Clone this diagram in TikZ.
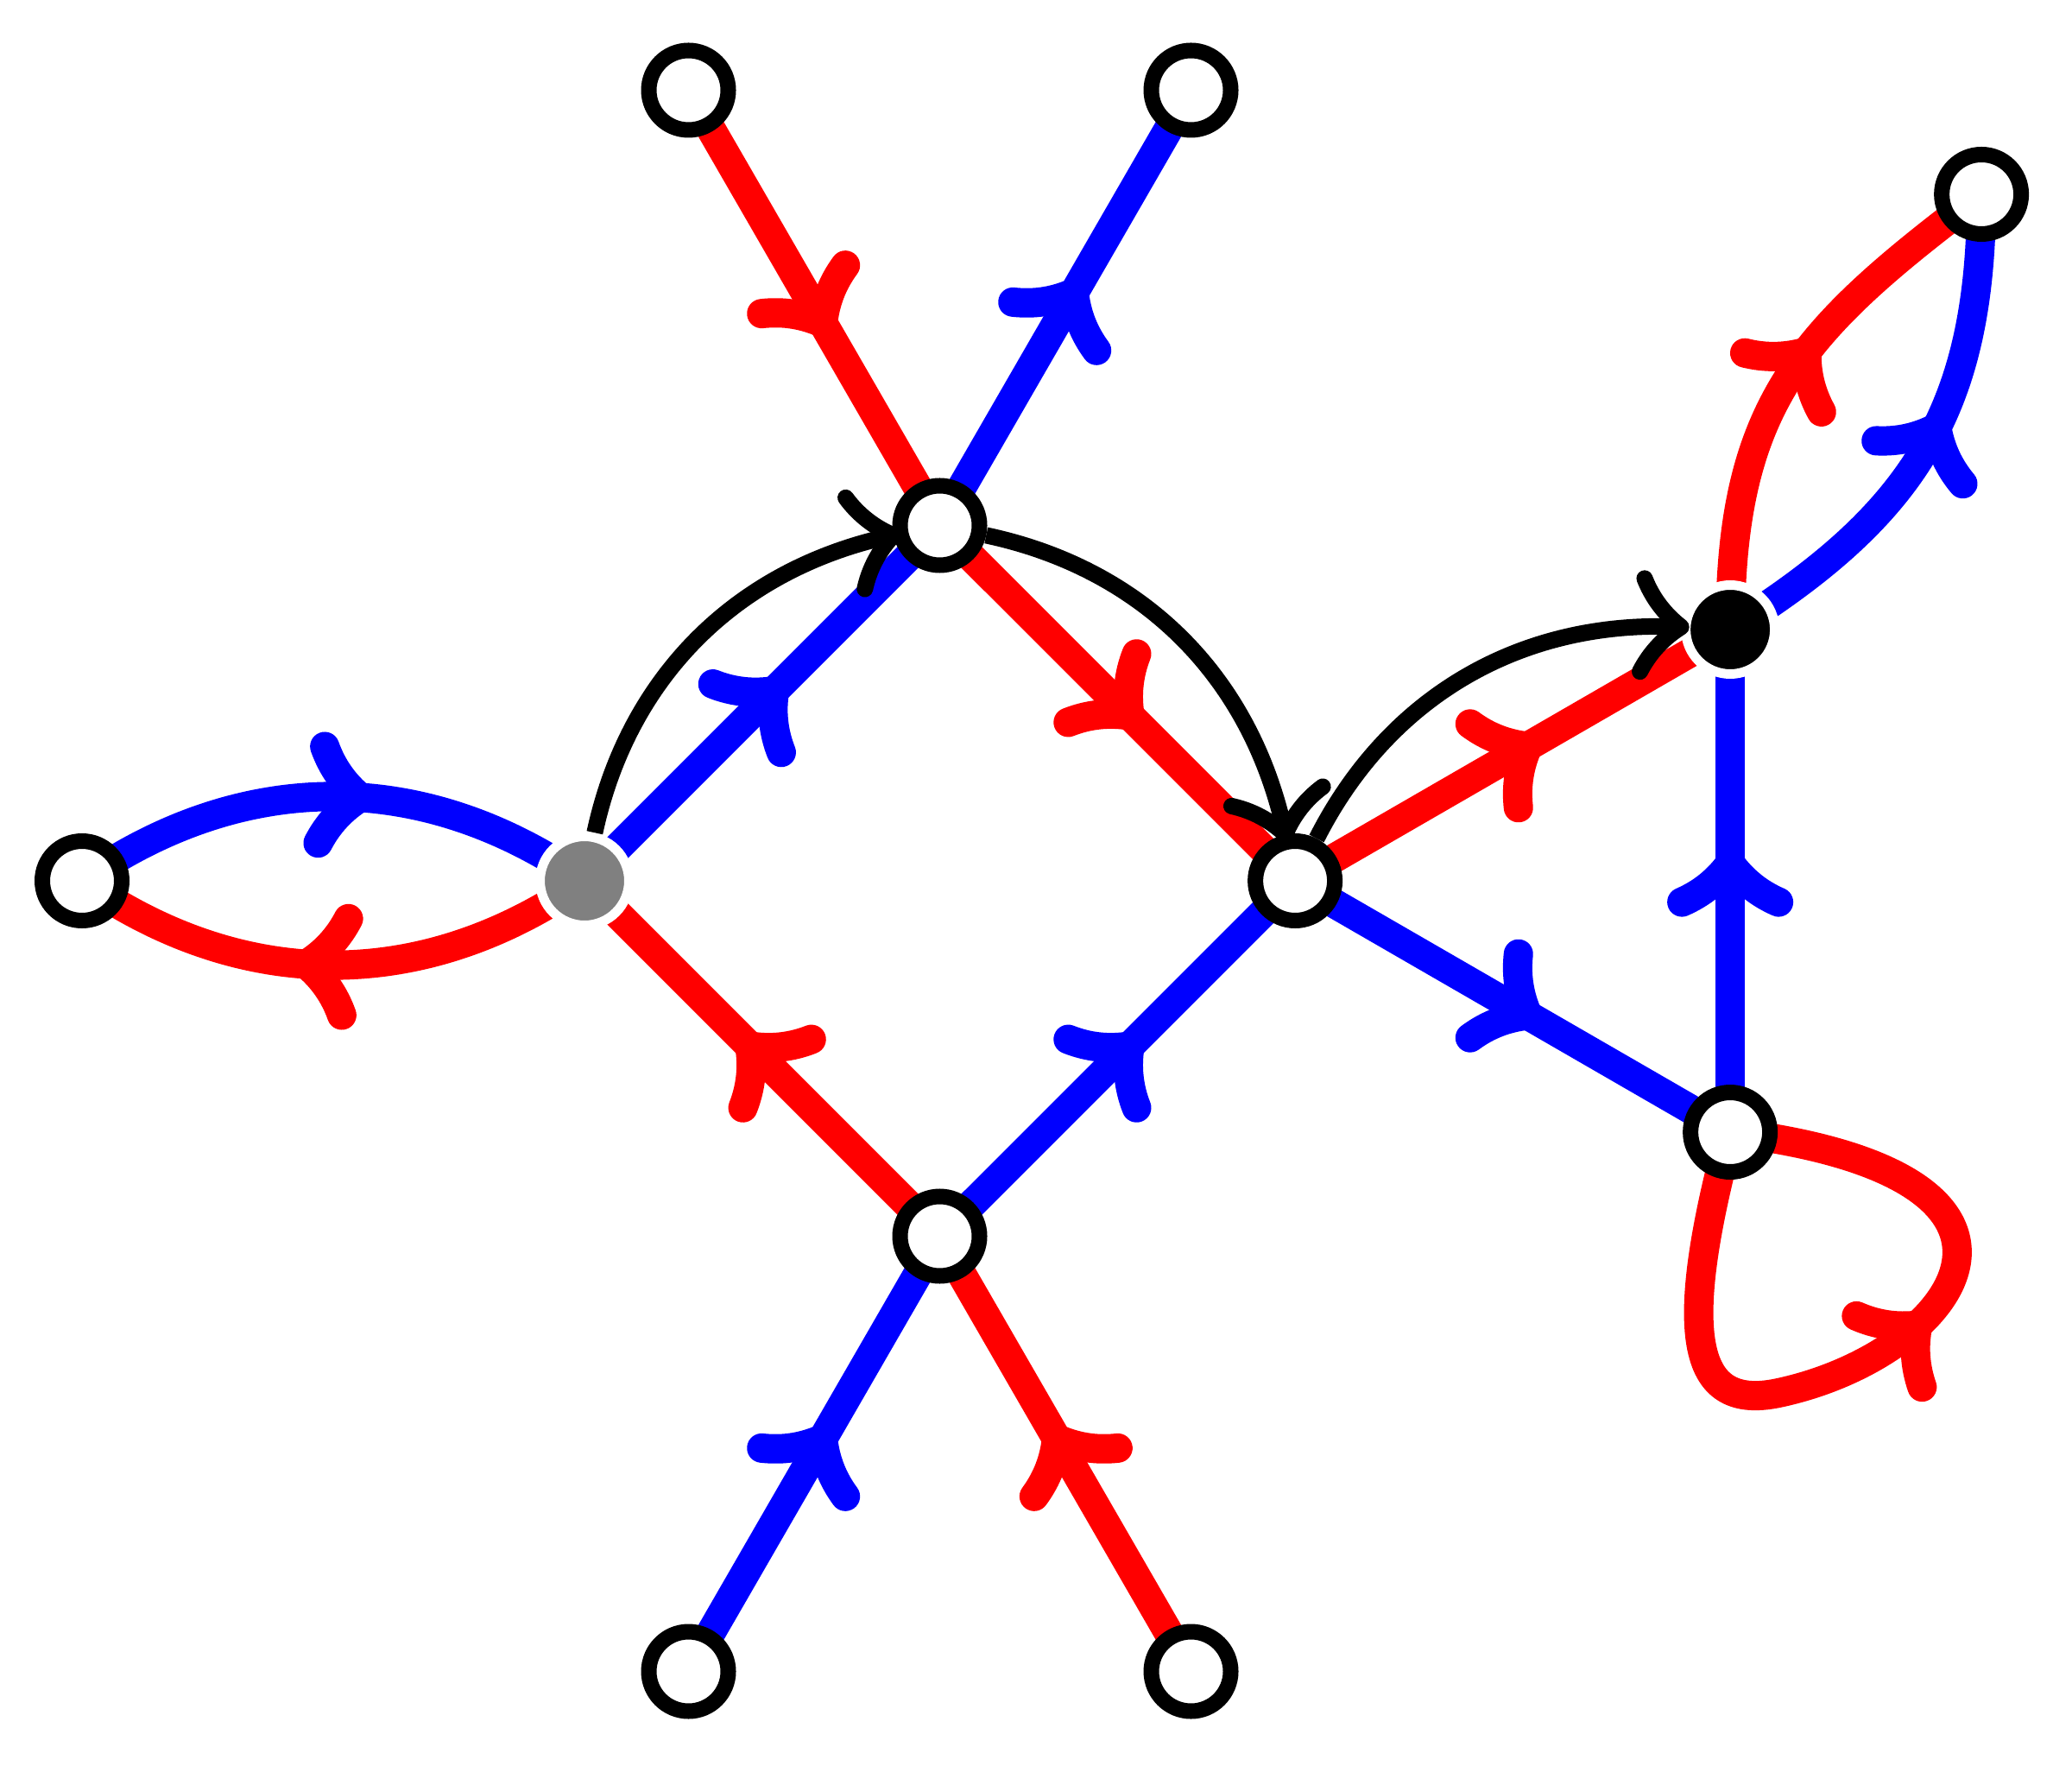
\documentclass[tikz,border=0pt]{standalone}
\usetikzlibrary{decorations.markings}
\pgfdeclarelayer{edgelayer}
\pgfsetlayers{edgelayer,main}
\newcommand{\cbarb}{\draw[line cap=round,line join=round]
  (-0.45,0.56) .. controls (-0.35,0.33) and (-0.20,0.145) .. (0,0)
  .. controls (-0.20,-0.145) and (-0.35,-0.33) .. (-0.45,-0.56);}
\newcommand{\kbarb}{\draw[line width=0.19cm,line cap=round,line join=round]
  (-0.45,0.54) .. controls (-0.35,0.32) and (-0.20,0.14) .. (0,0)
  .. controls (-0.20,-0.14) and (-0.35,-0.32) .. (-0.45,-0.54);}
\begin{document}
\begin{tikzpicture}[
  vtx/.style={circle, minimum size=0.92cm, inner sep=0pt, line width=0.18cm},
  openv/.style={vtx, draw=black, fill=white},
  solidv/.style={circle, minimum size=1.03cm, inner sep=0pt, line width=0.11cm, draw=white},
  grayv/.style={solidv, fill=gray},
  blackv/.style={solidv, fill=black},
  colored/.style={line width=0.34cm, postaction={decorate},
    decoration={markings, mark=at position #1 with {\cbarb}}},
  redge/.style={red, colored=#1}, redge/.default=0.535,
  bedge/.style={blue, colored=#1}, bedge/.default=0.535,
  blk/.style={black, line width=0.19cm, postaction={decorate},
    decoration={markings, mark=at position 1 with {\kbarb}}},
]
\useasboundingbox (0,0) rectangle (24,-20.45);
% vertices
\node[openv]  (A)  at (7.975,-1.045) {};
\node[openv]  (B)  at (13.795,-1.045) {};
\node[openv]  (T)  at (10.885,-6.085) {};
\node[openv]  (L)  at (0.95,-10.20) {};
\node[grayv]  (G)  at (6.77,-10.20) {};
\node[openv]  (R)  at (15.001,-10.20) {};
\node[openv]  (D)  at (10.885,-14.315) {};
\node[openv]  (BL) at (7.975,-19.355) {};
\node[openv]  (BR) at (13.795,-19.355) {};
\node[blackv] (K)  at (20.041,-7.29) {};
\node[openv]  (M)  at (20.041,-13.11) {};
\node[openv]  (F)  at (22.951,-2.25) {};
\coordinate (lq) at (20.60,-16.13);
% coloured edges
\begin{pgfonlayer}{edgelayer}
\draw[redge] (A.center) -- (T.center);
\draw[bedge] (T.center) -- (B.center);
\draw[bedge] (G.center) -- (T.center);
\draw[redge] (T.center) -- (R.center);
\draw[redge] (D.center) -- (G.center);
\draw[bedge] (D.center) -- (R.center);
\draw[bedge] (BL.center) -- (D.center);
\draw[redge] (BR.center) -- (D.center);
\draw[bedge=0.55] (L.center) to[bend left=35] (G.center);
\draw[redge=0.55] (G.center) to[bend left=35] (L.center);
\draw[redge] (R.center) -- (K.center);
\draw[bedge] (R.center) -- (M.center);
\draw[bedge] (M.center) -- (K.center);
\draw[redge=0.555] (K.center) to[out=90,in=217,looseness=1.15] (F.center);
\draw[bedge=0.55] (K.center) to[out=32,in=270,looseness=1.1] (F.center);
\draw[redge=0.57] (M.center) .. controls +(255:2.5) and +(192:1.0) .. (lq)
   .. controls +(12:2.1) and +(-7:4.2) .. (M.center);
\end{pgfonlayer}
% black arrows
\draw[blk] (G) to[bend left=33, looseness=0.97] (T);
\draw[blk] (T) to[bend left=33, looseness=0.97] (R);
\draw[blk] (R) to[bend left=33, looseness=0.97] (K);
\end{tikzpicture}
\end{document}
